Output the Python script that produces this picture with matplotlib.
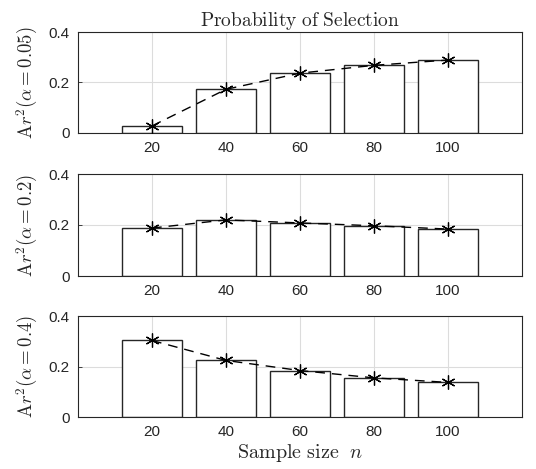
import matplotlib.pyplot as plt

plt.rcParams['font.family'] = ['Liberation Sans', 'DejaVu Sans']
plt.rcParams['mathtext.fontset'] = 'cm'

# sample sizes and selection probabilities
sample_sizes = [20, 40, 60, 80, 100]
prob_a005 = [0.028, 0.173, 0.237, 0.268, 0.289]
prob_a02 = [0.188, 0.220, 0.208, 0.197, 0.184]
prob_a04 = [0.303, 0.224, 0.184, 0.155, 0.137]
ylabels = [r'$\mathrm{A}r^2(\alpha=0.05)$', r'$\mathrm{A}r^2(\alpha=0.2)$',
           r'$\mathrm{A}r^2(\alpha=0.4)$']
yticks = [0, 0.2, 0.4]
yticklabels = ['0', '0.2', '0.4']

fig = plt.figure(figsize=(5.36, 4.69), dpi=100)
W, H = 536, 469
boxes = [(78, 32, 522, 133), (78, 174, 522, 276), (78, 316, 522, 417)]
dark = '#262626'

for (x0, y0, x1, y1), vals, lab in zip(boxes, [prob_a005, prob_a02, prob_a04], ylabels):
    ax = fig.add_axes([x0 / W, 1 - y1 / H, (x1 - x0) / W, (y1 - y0) / H])
    ax.bar(sample_sizes, vals, width=16, color='white', edgecolor=dark, linewidth=1.0, zorder=2)
    ax.plot(sample_sizes, vals, color='black', linestyle=(0, (7, 5)), linewidth=1.0,
            marker=(6, 2, 0), markersize=10, markeredgewidth=0.9, zorder=3)
    ax.set_xlim(0, 120)
    ax.set_ylim(0, 0.4)
    ax.set_xticks(sample_sizes)
    ax.set_yticks(yticks)
    ax.set_yticklabels(yticklabels)
    ax.grid(True, color='#dcdcdc', linewidth=0.8, zorder=0)
    ax.set_axisbelow(True)
    ax.tick_params(direction='in', length=3, labelsize=11, width=0.6,
                   colors=dark, pad=6)
    for s in ax.spines.values():
        s.set_linewidth(0.8)
        s.set_color(dark)
    ax.set_ylabel(lab, fontsize=13.5, labelpad=6, color=dark)
    if lab == ylabels[0]:
        ax.set_title(r'$\mathrm{Probability\ of\ Selection}$', fontsize=14, pad=3, color=dark)
    if lab == ylabels[-1]:
        ax.set_xlabel(r'$\mathrm{Sample\ size}\ \ n$', fontsize=14.5, labelpad=2, color=dark)

fig.savefig('out.png', dpi=100)
